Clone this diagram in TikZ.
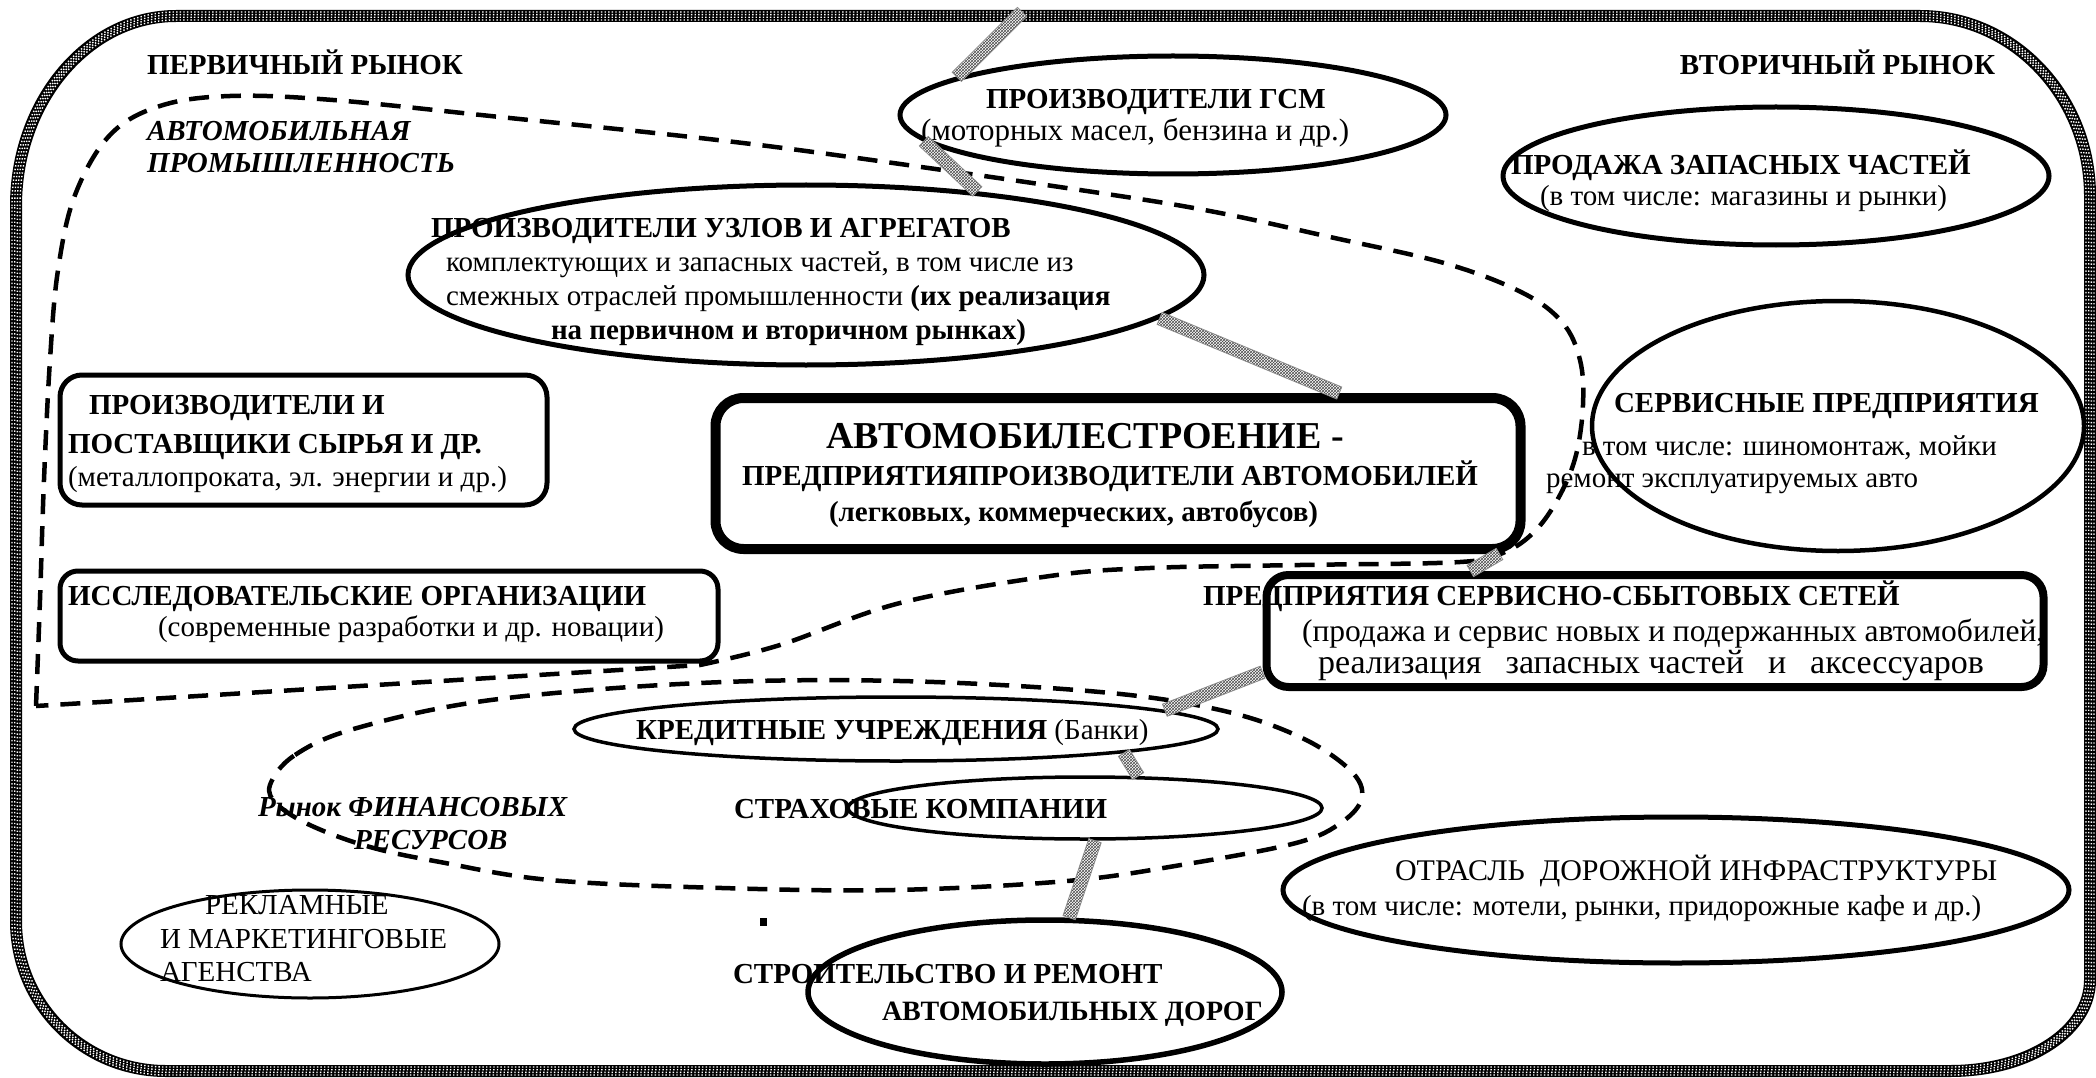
\documentclass[tikz,border=0pt]{standalone}
\usepackage{fontspec}
\setmainfont{Liberation Serif}
\usetikzlibrary{shapes.geometric,patterns,calc}
\newcommand\fs{\fontsize{29}{34}\selectfont}
\newcommand\bpath[1]{({16+#1},206) .. controls ({16+#1},101) and (88,{16+#1}) .. (176,{16+#1}) -- (1920,{16+#1}) .. controls (2014,{16+#1}) and ({2090-#1},97) .. ({2090-#1},196) -- ({2090-#1},980) .. controls ({2090-#1},1030) and (2030,{1071-#1}) .. (1950,{1071-#1}) -- (166,{1071-#1}) .. controls (83,{1071-#1}) and ({16+#1},1004) .. ({16+#1},921) -- cycle}
\newcommand\hatchbar[2]{%
  \path[fill=white] ($(#1)!6.5pt!90:(#2)$) -- ($(#2)!6.5pt!-90:(#1)$) -- ($(#2)!6.5pt!90:(#1)$) -- ($(#1)!6.5pt!-90:(#2)$) -- cycle;
  \path[pattern=crosshatch, pattern color=black!70, draw=black!45, line width=0.8pt] ($(#1)!6.5pt!90:(#2)$) -- ($(#2)!6.5pt!-90:(#1)$) -- ($(#2)!6.5pt!90:(#1)$) -- ($(#1)!6.5pt!-90:(#2)$) -- cycle;}
\begin{document}
\begin{tikzpicture}[x=1pt,y=-1pt,
  txt/.style={anchor=base west, inner sep=0pt, outer sep=0pt, font=\fs},
  ell/.style={draw, ellipse, inner sep=0pt, line width=#1},
  rbox/.style={draw, rectangle, inner sep=0pt, line width=#1},
  dsh/.style={line width=4.5pt, dash pattern=on 20pt off 12pt},
  borddot/.style={white, line width=1.4pt, dash pattern=on 1.4pt off 2.2pt}]
\useasboundingbox (0,0) rectangle (2096,1078);
% outer border
\draw[line width=12pt, black] \bpath{0};
\draw[borddot] \bpath{-4};
\draw[borddot] \bpath{-1.3};
\draw[borddot] \bpath{1.3};
\draw[borddot] \bpath{4};
% shapes
\node[ell=5pt, minimum width=546pt, minimum height=118pt] (gsm) at (1173,115) {};
\node[ell=5pt, minimum width=796pt, minimum height=180pt] (uzl) at (806,275) {};
\node[ell=5pt, minimum width=546pt, minimum height=138pt] (prod) at (1776,176) {};
\node[ell=4.5pt, minimum width=492pt, minimum height=250pt] (serv) at (1838,426) {};
\node[rbox=10pt, rounded corners=28pt, minimum width=805pt, minimum height=151pt] (auto) at (1118,473.5) {};
\node[rbox=5pt, rounded corners=22pt, minimum width=487pt, minimum height=130pt] (supp) at (303.5,440) {};
\node[rbox=5pt, rounded corners=18pt, minimum width=658pt, minimum height=90pt] (res) at (389,616) {};
\node[rbox=8pt, rounded corners=22pt, minimum width=777pt, minimum height=112pt] (net) at (1655,631) {};
\node[ell=3.5pt, minimum width=644pt, minimum height=64pt] (kred) at (896,729) {};
\node[ell=3.5pt, minimum width=474pt, minimum height=62pt] (strax) at (1085,808) {};
\node[ell=5.5pt, minimum width=474pt, minimum height=144pt] (road) at (1045,992) {};
\node[ell=5pt, minimum width=786pt, minimum height=146pt] (infra) at (1676,890) {};
\node[ell=3pt, minimum width=378pt, minimum height=108pt] (adv) at (310,944) {};
\node[fill, inner sep=0pt, minimum width=7pt, minimum height=8pt] (dot) at (763,922) {};
% dashed regions
\draw[dsh] plot[smooth, tension=0.6] coordinates {(36,706) (40,600) (44,480) (50,360) (58,270) (75,195) (110,135) (160,106) (230,96) (333,100) (500,117) (700,138) (850,157) (1100,193) (1215,212) (1330,237) (1444,263) (1521,292) (1562,322) (1580,360) (1583,405) (1576,455) (1560,495) (1536,530) (1505,552) (1460,562) (1300,565) (1150,568) (1050,576) (900,603) (780,645) (700,665)} -- (36,706);
\draw[dsh] plot[smooth cycle, tension=0.6] coordinates {(270,785) (295,755) (357,728) (491,700) (700,683) (900,681) (1100,692) (1220,710) (1300,737) (1350,770) (1362,797) (1342,822) (1296,843) (1181,865) (1067,881) (894,890) (722,888) (550,880) (440,862) (370,847) (312,826) (278,805)};
% texts
\node[txt] (t1) at (147,75) {\bfseries ПЕРВИЧНЫЙ РЫНОК};
\node[txt, anchor=base east] (t2) at (1995,75) {\bfseries ВТОРИЧНЫЙ РЫНОК};
\node[txt] (t3) at (147,141) {\bfseries\itshape АВТОМОБИЛЬНАЯ};
\node[txt] (t4) at (147,173) {\bfseries\itshape ПРОМЫШЛЕННОСТЬ};
\node[txt] (g1) at (986,109) {\bfseries ПРОИЗВОДИТЕЛИ ГСМ};
\node[txt, font=\fontsize{31}{34}\selectfont] (g2) at (921,141) {(моторных масел, бензина и др.)};
\node[txt] (u1) at (431,237) {\bfseries ПРОИЗВОДИТЕЛИ УЗЛОВ И АГРЕГАТОВ};
\node[txt] (u2) at (446,271) {комплектующих и запасных частей, в том числе из};
\node[txt] (u3) at (446,305) {смежных отраслей промышленности \textbf{(их реализация}};
\node[txt] (u4) at (551,339) {\bfseries на первичном и вторичном рынках)};
\node[txt] (p1) at (1511,175) {\bfseries ПРОДАЖА ЗАПАСНЫХ ЧАСТЕЙ};
\node[txt] (p2) at (1540,206) {(в том числе: магазины и рынки)};
\node[txt] (s1) at (1614,412) {\bfseries СЕРВИСНЫЕ ПРЕДПРИЯТИЯ};
\node[txt] (s2) at (1582,455) {в том числе: шиномонтаж, мойки};
\node[txt] (s3) at (1546,487) {ремонт эксплуатируемых авто};
\node[txt, font=\fontsize{38}{40}\selectfont\bfseries] (a1) at (826,448) {АВТОМОБИЛЕСТРОЕНИЕ -};
\node[txt] (a2) at (742,485) {\bfseries ПРЕДПРИЯТИЯПРОИЗВОДИТЕЛИ АВТОМОБИЛЕЙ};
\node[txt] (a3) at (829,521) {\bfseries (легковых, коммерческих, автобусов)};
\node[txt] (r1) at (89,414) {\bfseries ПРОИЗВОДИТЕЛИ И};
\node[txt] (r2) at (68,453) {\bfseries ПОСТАВЩИКИ СЫРЬЯ И ДР.};
\node[txt] (r3) at (68,486) {(металлопроката, эл. энергии и др.)};
\node[txt] (i1) at (68,605) {\bfseries ИССЛЕДОВАТЕЛЬСКИЕ ОРГАНИЗАЦИИ};
\node[txt] (i2) at (158,636) {(современные разработки и др. новации)};
\node[txt] (n1) at (1203,605) {\bfseries ПРЕДПРИЯТИЯ СЕРВИСНО-СБЫТОВЫХ СЕТЕЙ};
\node[txt, font=\fontsize{31.5}{34}\selectfont] (n2) at (1302,641) {(продажа и сервис новых и подержанных автомобилей,};
\node[txt, font=\fontsize{34}{36}\selectfont] (n3) at (1318,673) {реализация\hspace{24pt}запасных частей\hspace{24pt}и\hspace{24pt}аксессуаров};
\node[txt] (k1) at (636,739) {\bfseries КРЕДИТНЫЕ УЧРЕЖДЕНИЯ \mdseries(Банки)};
\node[txt] (k2) at (734,818) {\bfseries СТРАХОВЫЕ КОМПАНИИ};
\node[txt] (f1) at (258,816) {\bfseries\itshape Рынок ФИНАНСОВЫХ};
\node[txt] (f2) at (354,849) {\bfseries\itshape РЕСУРСОВ};
\node[txt] (m1) at (205,914) {РЕКЛАМНЫЕ};
\node[txt] (m2) at (160,948) {И МАРКЕТИНГОВЫЕ};
\node[txt] (m3) at (160,981) {АГЕНСТВА};
\node[txt] (d1) at (733,983) {\bfseries СТРОИТЕЛЬСТВО И РЕМОНТ};
\node[txt, font=\fontsize{28}{34}\selectfont] (d2) at (882,1020) {\bfseries АВТОМОБИЛЬНЫХ ДОРОГ};
\node[txt, font=\fontsize{30}{34}\selectfont] (o1) at (1395,880) {ОТРАСЛЬ~ ДОРОЖНОЙ ИНФРАСТРУКТУРЫ};
\node[txt] (o2) at (1302,915) {(в том числе: мотели, рынки, придорожные кафе и др.)};
% hatched connectors
\coordinate (topb) at (1022,12);
\coordinate (autoSE) at ($(auto.south east)+(-26,0)$);
\hatchbar{topb}{gsm.170}
\hatchbar{gsm.186}{uzl.26}
\hatchbar{uzl.-7}{auto.20}
\hatchbar{autoSE}{net.162}
\hatchbar{net.186}{kred.4}
\hatchbar{kred.-6}{strax.31}
\hatchbar{strax.-73}{road.72}
\end{tikzpicture}
\end{document}
